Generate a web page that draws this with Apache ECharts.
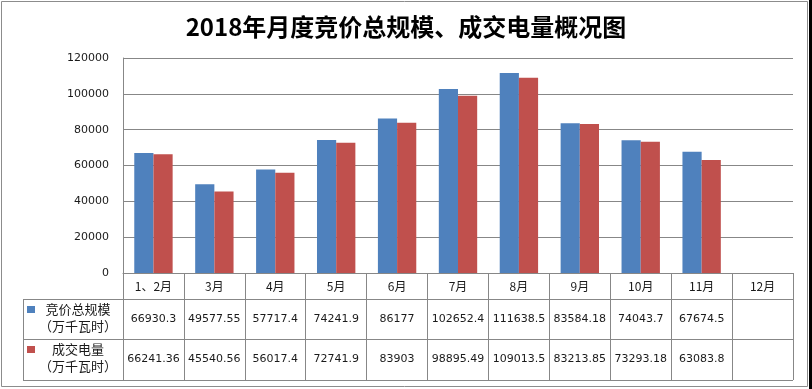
<!DOCTYPE html>
<html><head><meta charset="utf-8">
<script src="https://cdn.jsdelivr.net/npm/echarts@6/dist/echarts.min.js"></script>
<style>html,body{margin:0;padding:0;background:#fff}#c{width:812px;height:389px}</style>
</head><body><div id="c"></div>
<script>
var titleText = '2018年月度竞价总规模、成交电量概况图';
var months = ['1、2月','3月','4月','5月','6月','7月','8月','9月','10月','11月','12月'];
var bidTotal = [66930.3, 49577.55, 57717.4, 74241.9, 86177, 102652.4, 111638.5, 83584.18, 74043.7, 67674.5, null];
var dealVolume = [66241.36, 45540.56, 56017.4, 72741.9, 83903, 98895.49, 109013.5, 83213.85, 73293.18, 63083.8, null];
var seriesNames = ['竞价总规模', '成交电量'];
var unitText = '（万千瓦时）';
var yTicks = {min: 0, max: 120000, interval: 20000};

var colors = ['#4F81BD', '#C0504D'];
var lineC = '#878787';
var fmt = function (v) { return v == null ? '' : String(v); };

var chart = echarts.init(document.getElementById('c'));
var numFont = {fontFamily: 'DejaVu Sans', fontSize: 11, color: '#1a1a1a'};
var cjkFont = 'Noto Sans CJK SC';

// table geometry
var gL = 123, gR = 793, gB = 273, r1 = 299, r2 = 339, r3 = 380, tL = 23;

chart.setOption({
  backgroundColor: '#fff',
  animation: false,
  title: {
    text: titleText, left: 'center', top: 10,
    textStyle: {fontFamily: cjkFont, fontWeight: 'bold', fontSize: 24, color: '#000'}
  },
  grid: {left: gL, right: 812 - gR, top: 58, bottom: 389 - gB},
  xAxis: [
    {
      type: 'category', data: months, boundaryGap: true,
      axisLine: {lineStyle: {color: lineC, width: 1}},
      axisTick: {show: true, length: r3 - gB, interval: 0, alignWithLabel: false, lineStyle: {color: lineC}},
      axisLabel: {interval: 0, margin: 7, fontFamily: cjkFont, fontSize: 12, color: '#1a1a1a'}
    },
    {
      type: 'category', data: bidTotal.map(fmt), position: 'bottom',
      axisLine: {show: false}, axisTick: {show: false},
      axisLabel: Object.assign({interval: 0, margin: 41}, numFont)
    },
    {
      type: 'category', data: dealVolume.map(fmt), position: 'bottom',
      axisLine: {show: false}, axisTick: {show: false},
      axisLabel: Object.assign({interval: 0, margin: 81}, numFont)
    }
  ],
  yAxis: {
    type: 'value', min: yTicks.min, max: yTicks.max, interval: yTicks.interval,
    axisLine: {show: true, lineStyle: {color: lineC}},
    axisTick: {show: false},
    splitLine: {lineStyle: {color: lineC, width: 1}},
    axisLabel: {margin: 14, fontFamily: 'DejaVu Sans', fontSize: 11, color: '#1a1a1a', formatter: function (v) { return String(v); }}
  },
  series: [
    {name: seriesNames[0], type: 'bar', data: bidTotal, itemStyle: {color: colors[0]}, barGap: '0%', barCategoryGap: '37%'},
    {name: seriesNames[1], type: 'bar', data: dealVolume, itemStyle: {color: colors[1]}, barGap: '0%', barCategoryGap: '37%'}
  ],
  graphic: [
    {type: 'rect', shape: {x: 1.5, y: 1.5, width: 806, height: 385}, style: {fill: 'none', stroke: '#8c8c8c', lineWidth: 1}, silent: true},
    {type: 'rect', shape: {x: 809, y: 0, width: 3, height: 389}, style: {fill: '#000'}, silent: true},
    {type: 'line', shape: {x1: tL, y1: r1 + 0.5, x2: gR, y2: r1 + 0.5}, style: {stroke: lineC, lineWidth: 1}},
    {type: 'line', shape: {x1: tL, y1: r2 + 0.5, x2: gR, y2: r2 + 0.5}, style: {stroke: lineC, lineWidth: 1}},
    {type: 'line', shape: {x1: tL, y1: r3 + 0.5, x2: gR, y2: r3 + 0.5}, style: {stroke: lineC, lineWidth: 1}},
    {type: 'line', shape: {x1: tL + 0.5, y1: r1, x2: tL + 0.5, y2: r3}, style: {stroke: lineC, lineWidth: 1}},
    {type: 'rect', shape: {x: 27, y: 306, width: 8, height: 7}, style: {fill: colors[0]}},
    {type: 'rect', shape: {x: 27, y: 346, width: 8, height: 7}, style: {fill: colors[1]}},
    {type: 'text', x: 78, y: 309, style: {text: seriesNames[0], font: '13px "Noto Sans CJK SC"', fill: '#1a1a1a', textAlign: 'center', textVerticalAlign: 'middle'}},
    {type: 'text', x: 78, y: 326, style: {text: unitText, font: '13px "Noto Sans CJK SC"', fill: '#1a1a1a', textAlign: 'center', textVerticalAlign: 'middle'}},
    {type: 'text', x: 78, y: 349, style: {text: seriesNames[1], font: '13px "Noto Sans CJK SC"', fill: '#1a1a1a', textAlign: 'center', textVerticalAlign: 'middle'}},
    {type: 'text', x: 78, y: 366, style: {text: unitText, font: '13px "Noto Sans CJK SC"', fill: '#1a1a1a', textAlign: 'center', textVerticalAlign: 'middle'}}
  ]
});
</script></body></html>
